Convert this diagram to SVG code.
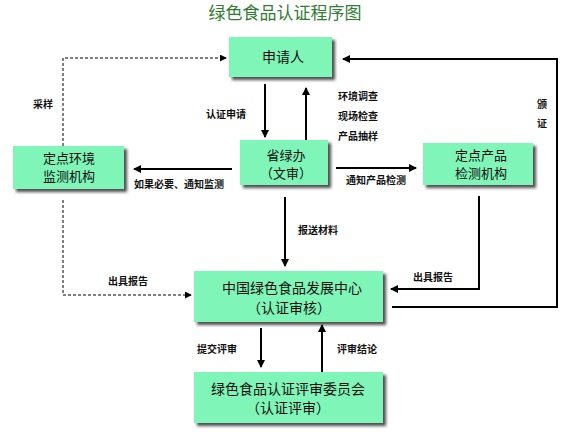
<svg xmlns="http://www.w3.org/2000/svg" width="576" height="432" viewBox="0 0 576 432">
<style>
.box{fill:#80f5b8;filter:url(#sh);}
.bt{font-family:"Noto Sans CJK SC","Noto Sans",sans-serif;font-size:14px;fill:#111;text-anchor:middle;}
.b2{font-size:13px;}
.lb{font-family:"Noto Sans CJK SC","Noto Sans",sans-serif;font-size:10px;font-weight:bold;fill:#111;}
.ln{fill:none;stroke:#000;stroke-width:2;}
.ds{fill:none;stroke:#000;stroke-width:1;stroke-dasharray:3,2;}
</style>
<defs>
<filter id="sh" x="-10%" y="-10%" width="130%" height="140%">
<feDropShadow dx="3" dy="3" stdDeviation="1.5" flood-color="#222" flood-opacity="0.8"/>
</filter>
<marker id="ah" viewBox="0 0 8 8" refX="7" refY="4" markerWidth="4" markerHeight="4" markerUnits="strokeWidth" orient="auto">
<path d="M0,0 L8,4 L0,8 Z" fill="#000"/>
</marker>
<marker id="ahd" viewBox="0 0 8 8" refX="7" refY="4" markerWidth="7" markerHeight="7" markerUnits="strokeWidth" orient="auto">
<path d="M0,0 L8,4 L0,8 Z" fill="#000"/>
</marker>
</defs>
<rect width="576" height="432" fill="#fff"/>
<text x="285" y="19" font-family="Noto Sans CJK SC, sans-serif" font-size="17" fill="#2e7d32" text-anchor="middle">绿色食品认证程序图</text>

<g id="connectors">
<path class="ln" d="M265,84 V137" marker-end="url(#ah)"/>
<path class="ln" d="M306,140 V88" marker-end="url(#ah)"/>
<path class="ln" d="M232,169 H134" marker-end="url(#ah)"/>
<path class="ln" d="M336,168 H416" marker-end="url(#ah)"/>
<path class="ln" d="M285,197 V266" marker-end="url(#ah)"/>
<path class="ln" d="M479,196 V289 H391" marker-end="url(#ah)"/>
<path class="ln" d="M392,307 H557 V59 H343" marker-end="url(#ah)"/>
<path class="ln" d="M261,328 V367" marker-end="url(#ah)"/>
<path class="ln" d="M322,372 V325" marker-end="url(#ah)"/>
<path class="ds" d="M63,146 V58 H226" marker-end="url(#ahd)"/>
<path class="ds" d="M63,200 V295 H191" marker-end="url(#ahd)"/>
<text class="lb" x="33" y="108">采样</text>
<text class="lb" x="206" y="118">认证申请</text>
<text class="lb" x="338" y="100">环境调查</text>
<text class="lb" x="338" y="120">现场检查</text>
<text class="lb" x="338" y="140">产品抽样</text>
<text class="lb" x="537" y="108">颁</text>
<text class="lb" x="537" y="127">证</text>
<text class="lb" x="134" y="188">如果必要、通知监测</text>
<text class="lb" x="346" y="184">通知产品检测</text>
<text class="lb" x="298" y="234">报送材料</text>
<text class="lb" x="108" y="285">出具报告</text>
<text class="lb" x="413" y="281">出具报告</text>
<text class="lb" x="197" y="353">提交评审</text>
<text class="lb" x="337" y="353">评审结论</text>
</g>

<g id="applicant">
<rect class="box" x="229" y="37" width="103" height="40"/>
<text class="bt" x="283" y="62">申请人</text>
</g>
<g id="province">
<rect class="box" x="240" y="140" width="88" height="45"/>
<text class="bt b2" x="286" y="160">省绿办</text>
<text class="bt b2" x="286" y="178">（文审）</text>
</g>
<g id="env">
<rect class="box" x="13" y="146" width="111" height="43"/>
<text class="bt b2" x="69" y="163">定点环境</text>
<text class="bt b2" x="69" y="181">监测机构</text>
</g>
<g id="product">
<rect class="box" x="423" y="143" width="110" height="42"/>
<text class="bt b2" x="481" y="160">定点产品</text>
<text class="bt b2" x="481" y="178">检测机构</text>
</g>
<g id="center">
<rect class="box" x="194" y="271" width="189" height="51"/>
<text class="bt" x="292" y="293">中国绿色食品发展中心</text>
<text class="bt" x="289" y="313">（认证审核）</text>
</g>
<g id="committee">
<rect class="box" x="194" y="372" width="189" height="51"/>
<text class="bt" x="288" y="394">绿色食品认证评审委员会</text>
<text class="bt" x="288" y="413">（认证评审）</text>
</g>
</svg>
